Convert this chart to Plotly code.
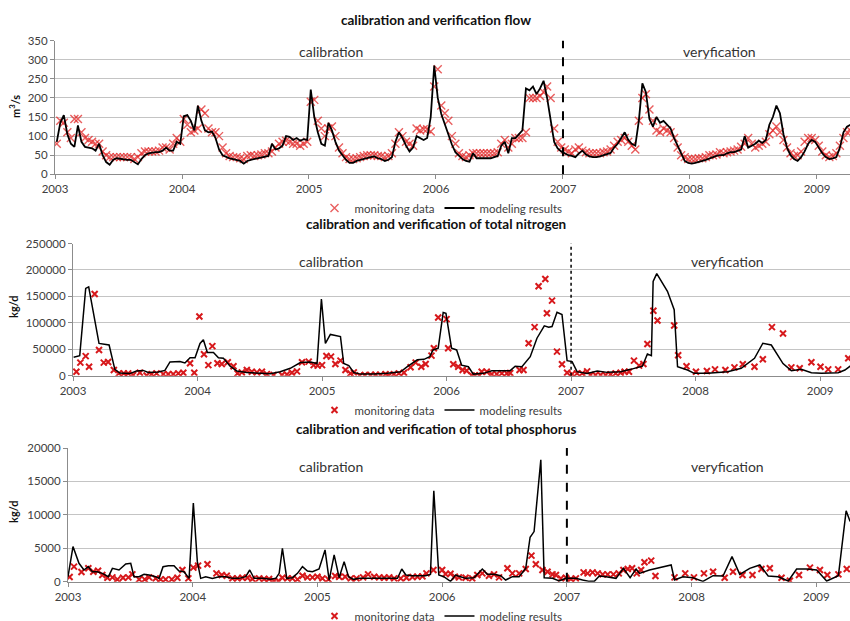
import plotly.graph_objects as go

# ---------------- data ----------------
years = [2003, 2004, 2005, 2006, 2007, 2008, 2009]
year_labels = ["2003", "2004", "2005", "2006", "2007", "2008", "2009"]

# flow, m3/s, three readings per month (Jan 2003 .. early Apr 2009)
flow_model = [
    85, 135, 155, 105, 80, 72, 128, 85, 72, 70, 68, 62, 80, 50, 32, 25, 38, 42,
    40, 38, 38, 38, 32, 26, 40, 50, 55, 57, 58, 58, 62, 70, 62, 62, 85, 80,
    152, 155, 140, 115, 180, 140, 115, 110, 112, 95, 65, 50, 45, 42, 40, 38, 35, 28,
    35, 38, 40, 40, 42, 45, 48, 80, 65, 68, 75, 100, 98, 90, 95, 88, 92, 90,
    222, 150, 110, 80, 75, 135, 115, 85, 62, 50, 38, 30, 30, 35, 38, 40, 42, 45,
    47, 42, 40, 35, 38, 45, 85, 110, 95, 75, 60, 70, 100, 95, 90, 95, 150, 285,
    200, 158, 130, 100, 78, 58, 48, 40, 35, 33, 55, 42, 42, 42, 42, 42, 45, 48,
    75, 85, 55, 95, 95, 105, 115, 225, 220, 230, 210, 225, 245, 200, 140, 85, 68, 60,
    55, 50, 48, 45, 55, 62, 52, 47, 45, 45, 47, 50, 52, 56, 70, 80, 95, 110,
    90, 80, 75, 140, 238, 215, 145, 125, 150, 135, 140, 130, 120, 95, 75, 55, 35, 30,
    28, 30, 32, 35, 38, 42, 45, 48, 50, 50, 55, 58, 58, 62, 65, 100, 70, 75,
    80, 88, 82, 90, 130, 150, 180, 160, 105, 70, 50, 40, 35, 45, 60, 80, 90, 85,
    70, 55, 45, 40, 42, 45, 70, 110, 125, 130,
]
flow_obs = [
    80, 140, 135, 110, 95, 145, 145, 110, 95, 90, 85, 80, 80, 60, 50, 45, 45, 45,
    45, 45, 45, 45, 40, 45, 55, 60, 60, 60, 60, 62, 70, 70, 65, 80, 95, 85,
    145, 130, 110, 115, 120, 170, 160, 120, 110, 110, 100, 70, 55, 48, 45, 45, 42, 40,
    48, 50, 48, 50, 52, 55, 55, 60, 70, 80, 85, 88, 85, 80, 80, 75, 80, 85,
    190, 195, 140, 120, 100, 120, 125, 100, 70, 55, 45, 40, 40, 42, 45, 48, 50, 50,
    50, 48, 48, 45, 48, 55, 80, 110, 100, 85, 80, 75, 120, 115, 118, 118, 112, 230,
    275, 180, 160, 140, 100, 80, 55, 48, 45, 50, 55, 55, 55, 55, 55, 55, 55, 58,
    80, 90, 70, 80, 95, 95, 95, 110, 200, 200, 200, 205, 215, 230, 200, 120, 85, 70,
    65, 60, 55, 65, 70, 62, 58, 55, 55, 55, 55, 58, 60, 65, 75, 85, 90, 95,
    85, 75, 65, 140, 200, 210, 170, 140, 115, 110, 120, 115, 110, 95, 70, 50, 45, 40,
    40, 40, 42, 42, 45, 50, 50, 52, 58, 55, 58, 60, 62, 65, 72, 80, 95, 80,
    70, 75, 80, 85, 105, 115, 125, 110, 90, 70, 55, 48, 50, 60, 85, 95, 95, 90,
    75, 60, 50, 45, 48, 55, 75, 95, 110, 115,
]
flow_t = [2003 + (i + 0.5) / 36 for i in range(len(flow_model))]

# total nitrogen, kg/d (time in decimal years)
n_model_t = [
    2003.005, 2003.054, 2003.102, 2003.126, 2003.209, 2003.290, 2003.336, 2003.376,
    2003.456, 2003.510, 2003.564, 2003.604, 2003.685, 2003.738, 2003.779, 2003.859,
    2003.899, 2003.940, 2003.980, 2004.020, 2004.047, 2004.079, 2004.128, 2004.168,
    2004.208, 2004.262, 2004.315, 2004.396, 2004.503, 2004.584, 2004.664, 2004.745,
    2004.826, 2004.906, 2004.960, 2004.995, 2005.027, 2005.067, 2005.148, 2005.174,
    2005.215, 2005.255, 2005.309, 2005.416, 2005.523, 2005.631, 2005.685, 2005.765,
    2005.819, 2005.865, 2005.892, 2005.933, 2005.973, 2005.995, 2006.040, 2006.081,
    2006.121, 2006.175, 2006.215, 2006.296, 2006.363, 2006.430, 2006.511, 2006.551,
    2006.605, 2006.672, 2006.726, 2006.785, 2006.820, 2006.847, 2006.887, 2006.927,
    2006.968, 2007.008, 2007.048, 2007.129, 2007.210, 2007.290, 2007.398, 2007.478,
    2007.573, 2007.613, 2007.645, 2007.659, 2007.688, 2007.774, 2007.828, 2007.855,
    2007.935, 2007.989, 2008.097, 2008.258, 2008.366, 2008.473, 2008.540, 2008.608,
    2008.702, 2008.769, 2008.849, 2008.930, 2009.011, 2009.145, 2009.199, 2009.253,
]
n_model = [
    35000, 38000, 165000, 168000, 61000, 58000, 12000, 5000,
    4000, 9000, 10000, 6000, 7000, 10000, 26000, 27000,
    24000, 34000, 34000, 61000, 68000, 44000, 44000, 34000,
    33000, 18000, 9000, 6000, 4500, 3500, 7500, 14000,
    25000, 26000, 23000, 145000, 61000, 78000, 74000, 23000,
    19000, 6000, 3000, 3000, 4500, 7500, 17000, 30000,
    31000, 36000, 48700, 52000, 119600, 118000, 52000, 48700,
    20000, 17000, 3000, 4400, 9500, 8900, 9500, 18000,
    17000, 36000, 70900, 94300, 91800, 93000, 120000, 115800,
    28500, 26600, 7600, 4400, 8900, 6300, 7600, 12000,
    18000, 41000, 38000, 178500, 193000, 159500, 124700, 17000,
    10800, 4400, 4400, 7600, 14000, 33000, 61400, 58000,
    23000, 9500, 12000, 5700, 4400, 5700, 10800, 20000,
]
n_obs_t = [
    2003.027, 2003.059, 2003.102, 2003.129, 2003.174, 2003.209, 2003.247, 2003.282,
    2003.328, 2003.368, 2003.408, 2003.443, 2003.483, 2003.537, 2003.591, 2003.631,
    2003.671, 2003.725, 2003.765, 2003.805, 2003.846, 2003.886, 2003.940, 2003.974,
    2004.015, 2004.052, 2004.087, 2004.119, 2004.160, 2004.195, 2004.243, 2004.289,
    2004.321, 2004.356, 2004.396, 2004.436, 2004.477, 2004.517, 2004.557, 2004.611,
    2004.678, 2004.718, 2004.758, 2004.799, 2004.839, 2004.893, 2004.933, 2004.965,
    2005.000, 2005.035, 2005.072, 2005.107, 2005.148, 2005.188, 2005.228, 2005.255,
    2005.303, 2005.344, 2005.389, 2005.430, 2005.470, 2005.510, 2005.537, 2005.577,
    2005.617, 2005.658, 2005.711, 2005.752, 2005.797, 2005.832, 2005.879, 2005.898,
    2005.933, 2006.000, 2006.013, 2006.054, 2006.094, 2006.129, 2006.161, 2006.202,
    2006.228, 2006.263, 2006.282, 2006.323, 2006.363, 2006.403, 2006.444, 2006.484,
    2006.511, 2006.586, 2006.618, 2006.659, 2006.707, 2006.739, 2006.793, 2006.806,
    2006.847, 2006.887, 2006.927, 2006.968, 2007.008, 2007.048, 2007.089, 2007.129,
    2007.156, 2007.196, 2007.237, 2007.277, 2007.317, 2007.358, 2007.398, 2007.430,
    2007.465, 2007.505, 2007.546, 2007.581, 2007.613, 2007.661, 2007.694, 2007.828,
    2007.860, 2007.927, 2008.003, 2008.091, 2008.156, 2008.239, 2008.312, 2008.379,
    2008.473, 2008.540, 2008.613, 2008.702, 2008.769, 2008.836, 2008.930, 2009.003,
    2009.065, 2009.145, 2009.226,
]
n_obs = [
    7600, 24700, 37000, 17000, 154500, 48700, 24700, 26000,
    10800, 4400, 4400, 4400, 1300, 5700, 500, 3000,
    4400, 3000, 3000, 3000, 4400, 5700, 23400, 5700,
    112000, 40500, 20000, 56000, 23400, 22000, 25300, 18000,
    4400, 6300, 10800, 7600, 6300, 7600, 3000, 1300,
    1300, 2500, 5700, 8200, 25300, 26600, 20000, 19000,
    20000, 37300, 36000, 22000, 28500, 10800, 4400, 6300,
    500, 1300, 1300, 1900, 1300, 3000, 500, 3000,
    4400, 5700, 16000, 24700, 17000, 22000, 38000, 52000,
    110000, 107000, 52000, 21500, 17000, 10800, 9500, 500,
    500, 500, 7600, 7600, 3000, 3000, 4400, 4400,
    5000, 10800, 10800, 61400, 91800, 169000, 183000, 118000,
    142000, 45600, 21500, 5700, 3000, 4400, 4400, 8200,
    1300, 1300, 1300, 1300, 2500, 4400, 5700, 7600,
    7600, 28500, 19000, 22000, 60000, 122800, 104500, 95000,
    38600, 18000, 7600, 8900, 12000, 10800, 15800, 21500,
    17000, 31000, 91800, 79800, 15800, 14000, 25300, 17000,
    12000, 12000, 33000,
]

# total phosphorus, kg/d (time in decimal years)
p_model_t = [
    2003.000, 2003.040, 2003.088, 2003.128, 2003.163, 2003.195, 2003.235, 2003.275,
    2003.324, 2003.356, 2003.409, 2003.463, 2003.503, 2003.529, 2003.570, 2003.610,
    2003.650, 2003.703, 2003.730, 2003.762, 2003.805, 2003.850, 2003.890, 2003.930,
    2003.971, 2004.005, 2004.037, 2004.064, 2004.104, 2004.158, 2004.211, 2004.265,
    2004.318, 2004.372, 2004.425, 2004.457, 2004.492, 2004.559, 2004.626, 2004.666,
    2004.693, 2004.719, 2004.754, 2004.799, 2004.840, 2004.880, 2004.920, 2004.960,
    2005.013, 2005.061, 2005.094, 2005.134, 2005.174, 2005.214, 2005.249, 2005.289,
    2005.334, 2005.388, 2005.441, 2005.495, 2005.548, 2005.602, 2005.642, 2005.676,
    2005.709, 2005.762, 2005.816, 2005.866, 2005.906, 2005.933, 2005.973, 2006.013,
    2006.067, 2006.107, 2006.147, 2006.188, 2006.255, 2006.322, 2006.362, 2006.416,
    2006.469, 2006.509, 2006.563, 2006.617, 2006.670, 2006.705, 2006.737, 2006.791,
    2006.818, 2006.885, 2006.938, 2006.992, 2007.032, 2007.072, 2007.126, 2007.180,
    2007.220, 2007.260, 2007.314, 2007.394, 2007.453, 2007.507, 2007.555, 2007.582,
    2007.662, 2007.743, 2007.836, 2007.863, 2007.930, 2008.011, 2008.091, 2008.172,
    2008.252, 2008.324, 2008.386, 2008.466, 2008.547, 2008.614, 2008.694, 2008.775,
    2008.842, 2008.922, 2009.003, 2009.083, 2009.177, 2009.239, 2009.271,
]
p_model = [
    750, 5250, 2750, 1750, 2250, 1500, 1500, 1250,
    750, 2000, 1750, 2650, 2750, 750, 750, 1100,
    1000, 750, 500, 2250, 2400, 2400, 1600, 1500,
    500, 11750, 3000, 500, 750, 500, 750, 750,
    500, 500, 750, 1750, 500, 500, 350, 500,
    1250, 5000, 500, 600, 1250, 2250, 1600, 1500,
    1900, 4750, 250, 4000, 600, 3000, 750, 350,
    500, 500, 600, 500, 600, 600, 500, 1900,
    1000, 900, 900, 900, 1100, 13600, 1000, 750,
    50, 1000, 750, 500, 600, 1900, 1100, 1100,
    900, 250, 750, 750, 2000, 6650, 7500, 18250,
    600, 500, 100, 500, 500, 500, 250, 50,
    50, 850, 750, 500, 2000, 600, 1900, 1250,
    1750, 2150, 2500, 250, 750, 600, 50, 900,
    850, 3750, 1100, 2000, 2500, 850, 750, 100,
    1900, 1900, 1750, 100, 900, 10600, 9000,
]
p_obs_t = [
    2003.013, 2003.048, 2003.108, 2003.163, 2003.203, 2003.241, 2003.275, 2003.316,
    2003.356, 2003.396, 2003.441, 2003.484, 2003.516, 2003.570, 2003.615, 2003.650,
    2003.703, 2003.743, 2003.783, 2003.832, 2003.877, 2003.917, 2003.965, 2004.005,
    2004.043, 2004.118, 2004.190, 2004.233, 2004.273, 2004.318, 2004.358, 2004.398,
    2004.439, 2004.479, 2004.532, 2004.572, 2004.612, 2004.652, 2004.687, 2004.719,
    2004.759, 2004.799, 2004.840, 2004.880, 2004.920, 2004.960, 2005.000, 2005.040,
    2005.088, 2005.142, 2005.174, 2005.222, 2005.267, 2005.313, 2005.366, 2005.406,
    2005.455, 2005.495, 2005.535, 2005.575, 2005.615, 2005.668, 2005.714, 2005.762,
    2005.802, 2005.842, 2005.874, 2005.930, 2006.000, 2006.027, 2006.067, 2006.102,
    2006.134, 2006.188, 2006.241, 2006.282, 2006.322, 2006.375, 2006.416, 2006.456,
    2006.523, 2006.563, 2006.617, 2006.670, 2006.716, 2006.751, 2006.804, 2006.845,
    2006.885, 2006.912, 2006.952, 2006.992, 2007.032, 2007.072, 2007.134, 2007.166,
    2007.206, 2007.247, 2007.287, 2007.327, 2007.373, 2007.416, 2007.453, 2007.488,
    2007.523, 2007.560, 2007.595, 2007.622, 2007.676, 2007.710, 2007.863, 2007.949,
    2008.019, 2008.099, 2008.172, 2008.265, 2008.332, 2008.408, 2008.488, 2008.560,
    2008.627, 2008.721, 2008.788, 2008.861, 2008.949, 2009.029, 2009.088, 2009.177,
    2009.244,
]
p_obs = [
    700, 2250, 1450, 2000, 1500, 1650, 1000, 600,
    650, 350, 600, 650, 1100, 350, 350, 650,
    500, 350, 350, 350, 600, 1750, 500, 2100,
    2400, 2600, 1250, 1000, 900, 500, 500, 600,
    600, 400, 500, 400, 400, 100, 100, 600,
    500, 500, 350, 900, 650, 650, 750, 500,
    350, 850, 750, 750, 500, 500, 650, 1100,
    750, 650, 600, 650, 500, 500, 600, 700,
    750, 800, 1250, 1750, 1750, 1150, 1200, 750,
    650, 600, 500, 1000, 1250, 900, 1100, 650,
    2000, 1250, 1250, 1900, 3900, 2600, 1750, 1500,
    1100, 1000, 500, 600, 400, 500, 1400, 1250,
    1400, 1250, 1100, 1100, 1100, 1250, 1750, 1900,
    2000, 1250, 1750, 2900, 3150, 850, 650, 1250,
    650, 1250, 1500, 600, 1500, 1000, 1000, 1900,
    2000, 600, 150, 1000, 2100, 1750, 1000, 1100,
    1900,
]

split_year = 2007
titles = ["calibration and verification flow",
          "calibration and verification of total nitrogen",
          "calibration and verification of total phosphorus"]
y_titles = ["m<sup>3</sup>/s", "kg/d", "kg/d"]
legend_names = ["monitoring data", "modeling results"]

# ---------------- figure ----------------
W, H = 850, 621
FONT = "Lato"
TXT = "#404040"
RED = "#d7191c"


def px_x(px):
    return px / W


def px_y(px):
    return 1 - px / H


fig = go.Figure()

fig.add_trace(go.Scatter(x=flow_t, y=flow_obs, mode="markers", name=legend_names[0],
                         marker=dict(symbol="x-thin", size=8, line=dict(width=1.4, color="rgba(225,40,40,0.75)")),
                         xaxis="x", yaxis="y", legend="legend"))
fig.add_trace(go.Scatter(x=flow_t, y=flow_model, mode="lines", name=legend_names[1],
                         line=dict(color="black", width=1.8),
                         xaxis="x", yaxis="y", legend="legend"))

fig.add_trace(go.Scatter(x=n_obs_t, y=n_obs, mode="markers", name=legend_names[0],
                         marker=dict(symbol="x-thin", size=6, line=dict(width=2, color=RED)),
                         xaxis="x2", yaxis="y2", legend="legend2"))
fig.add_trace(go.Scatter(x=n_model_t, y=n_model, mode="lines", name=legend_names[1],
                         line=dict(color="black", width=1.5),
                         xaxis="x2", yaxis="y2", legend="legend2"))

fig.add_trace(go.Scatter(x=p_obs_t, y=p_obs, mode="markers", name=legend_names[0],
                         marker=dict(symbol="x-thin", size=6, line=dict(width=2, color=RED)),
                         xaxis="x3", yaxis="y3", legend="legend3"))
fig.add_trace(go.Scatter(x=p_model_t, y=p_model, mode="lines", name=legend_names[1],
                         line=dict(color="black", width=1.5),
                         xaxis="x3", yaxis="y3", legend="legend3"))

axis_font = dict(family=FONT, size=11.5, color=TXT)


def xaxis(left, right_year, anchor):
    return dict(domain=[px_x(left), 1], range=[2003, right_year], anchor=anchor,
                tickmode="array", tickvals=years, ticktext=year_labels,
                ticks="outside", ticklen=4, tickcolor="#8c8c8c",
                showline=True, linecolor="#8c8c8c", linewidth=1,
                showgrid=False, zeroline=False, tickfont=axis_font,
                automargin=False, fixedrange=True)


def yaxis(top_px, bot_px, rng, dtick, anchor):
    return dict(domain=[px_y(bot_px), px_y(top_px)], range=rng, dtick=dtick, anchor=anchor,
                tickformat="d",
                ticks="outside", ticklen=4, tickcolor="#8c8c8c",
                showline=True, linecolor="#8c8c8c", linewidth=1,
                showgrid=True, gridcolor="#c4c4c4", gridwidth=1,
                zeroline=False, tickfont=axis_font, automargin=False, fixedrange=True)


panels = [
    dict(left=55, right=2009.26, top=40.7, bot=174.3, rng=[0, 350], dtick=50,
         title_y=20, leg_y=208, ytitle_x=15, ytitle_y=107, lab_y=51, dash="dash", dw=2),
    dict(left=73, right=2009.24, top=243.5, bot=375.7, rng=[0, 250000], dtick=50000,
         title_y=224, leg_y=410, ytitle_x=13, ytitle_y=307, lab_y=261, dash="dot", dw=1.5),
    dict(left=68, right=2009.27, top=448, bot=581.7, rng=[0, 20000], dtick=5000,
         title_y=429, leg_y=616, ytitle_x=13, ytitle_y=512, lab_y=466, dash="dash", dw=2),
]

layout = dict(width=W, height=H, autosize=False,
              margin=dict(l=0, r=0, t=0, b=0, pad=0, autoexpand=False),
              paper_bgcolor="white", plot_bgcolor="white",
              font=dict(family=FONT, color=TXT),
              showlegend=True)
annotations = []
shapes = []
for i, p in enumerate(panels):
    sfx = "" if i == 0 else str(i + 1)
    layout["xaxis" + sfx] = xaxis(p["left"], p["right"], "y" + sfx)
    layout["yaxis" + sfx] = yaxis(p["top"], p["bot"], p["rng"], p["dtick"], "x" + sfx)
    layout["legend" + sfx] = dict(orientation="h", x=px_x(441), xanchor="center",
                                  y=px_y(p["leg_y"]), yanchor="middle",
                                  font=dict(family=FONT, size=11.5, color=TXT),
                                  bgcolor="rgba(0,0,0,0)", itemwidth=30)
    annotations.append(dict(text="<b>" + titles[i] + "</b>", x=px_x(436), y=px_y(p["title_y"]),
                            xref="paper", yref="paper", showarrow=False,
                            xanchor="center", yanchor="middle",
                            font=dict(family=FONT, size=13.5, color="#111111")))
    annotations.append(dict(text="<b>" + y_titles[i] + "</b>", x=px_x(p["ytitle_x"]), y=px_y(p["ytitle_y"]),
                            xref="paper", yref="paper", showarrow=False, textangle=-90,
                            xanchor="center", yanchor="middle",
                            font=dict(family=FONT, size=11, color="#111111")))
    annotations.append(dict(text="calibration", x=px_x(331), y=px_y(p["lab_y"]),
                            xref="paper", yref="paper", showarrow=False,
                            xanchor="center", yanchor="middle",
                            font=dict(family=FONT, size=14, color="#333333")))
    annotations.append(dict(text="veryfication", x=px_x(719 if i == 0 else 727), y=px_y(p["lab_y"]),
                            xref="paper", yref="paper", showarrow=False,
                            xanchor="center", yanchor="middle",
                            font=dict(family=FONT, size=14, color="#333333")))
    shapes.append(dict(type="line", x0=split_year, x1=split_year, xref="x" + sfx,
                       y0=0, y1=1, yref="y" + sfx + " domain",
                       line=dict(color="black", width=p["dw"], dash=p["dash"])))

layout["annotations"] = annotations
layout["shapes"] = shapes
fig.update_layout(**layout)

# remove the browser's default 8px page margin so the 850x621 figure fills the window
fig.write_html("out.html", config={"displayModeBar": False},
               post_script="document.body.style.margin='0';document.body.style.overflow='hidden';")
